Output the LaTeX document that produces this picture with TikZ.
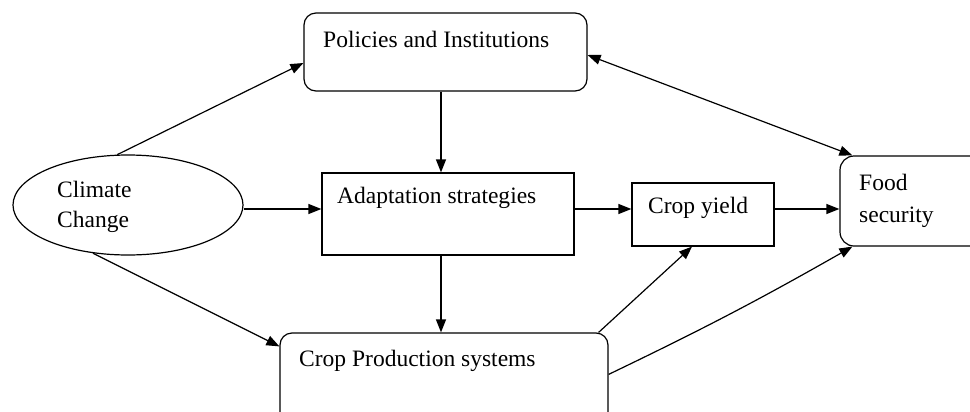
\documentclass[tikz,border=0pt]{standalone}
\usepackage{fontspec}
\setmainfont{Liberation Serif}
\usetikzlibrary{arrows.meta,shapes.geometric,calc}
\begin{document}
\begin{tikzpicture}[x=1bp,y=-1bp,
  box/.style={draw, line width=1.2bp, inner sep=0pt},
  rbox/.style={box, rounded corners=12bp},
  lbl/.style={anchor=base west, inner sep=0pt, font=\fontsize{23.6}{30}\selectfont},
  arr/.style={-{Triangle[length=13bp,width=10bp]}, line width=1.2bp},
  arrtwo/.style={{Triangle[length=13bp,width=10bp]}-{Triangle[length=13bp,width=10bp]}, line width=1.2bp},
]
\useasboundingbox (0,0) rectangle (970,411);
\clip (0,0) rectangle (970,411);
% boxes
\node[rbox, minimum width=283bp, minimum height=78bp] (pol) at (445.5,52) {};
\node[ellipse, draw, line width=1.2bp, inner sep=0pt, minimum width=230bp, minimum height=100bp] (ell) at (128,205) {};
\node[box, minimum width=252bp, minimum height=82bp] (ada) at (448,214) {};
\node[box, minimum width=142bp, minimum height=63bp] (cy) at (703,214.5) {};
\node[rbox, rounded corners=14bp, minimum width=160bp, minimum height=90bp] (food) at (920,201) {};
\node[rbox, minimum width=328bp, minimum height=92bp] (cps) at (444,379) {};
% texts
\node[lbl] (tpol) at (323,47) {Policies and Institutions};
\node[lbl] (tcl1) at (57,197) {Climate};
\node[lbl] (tcl2) at (57,227) {Change};
\node[lbl] (tada) at (337,203) {Adaptation strategies};
\node[lbl] (tcy) at (648,213) {Crop yield};
\node[lbl] (tf1) at (859,190) {Food};
\node[lbl] (tf2) at (859,222) {security};
\node[lbl] (tcps) at (299,366) {Crop Production systems};
% helper coordinates
\coordinate (rowy) at (0,209);
\coordinate (colx) at (441,0);
% connectors
\draw[arr] (ell.102) -- ($(pol.west)+(0,11)$);
\draw[arr] (ell.234) -- ($(cps.north west)+(0,14)$);
\draw[arr] (ell.east |- rowy) -- (ada.west |- rowy);
\draw[arr] (pol.south -| colx) -- (ada.north -| colx);
\draw[arr] (ada.south -| colx) -- (cps.north -| colx);
\draw[arr] (ada.east |- rowy) -- (cy.west |- rowy);
\draw[arr] (cy.east |- rowy) -- (food.west |- rowy);
\draw[arrtwo] ($(pol.east)+(0,3)$) -- ($(food.north west)+(13,0)$);
\draw[arr] ($(cps.north east)+(-10,0)$) -- ($(cy.south)+(-11,0)$);
\draw[arr] ($(cps.north east)+(0,42)$) to[bend right=2] ($(food.south west)+(13,0)$);
\end{tikzpicture}
\end{document}
